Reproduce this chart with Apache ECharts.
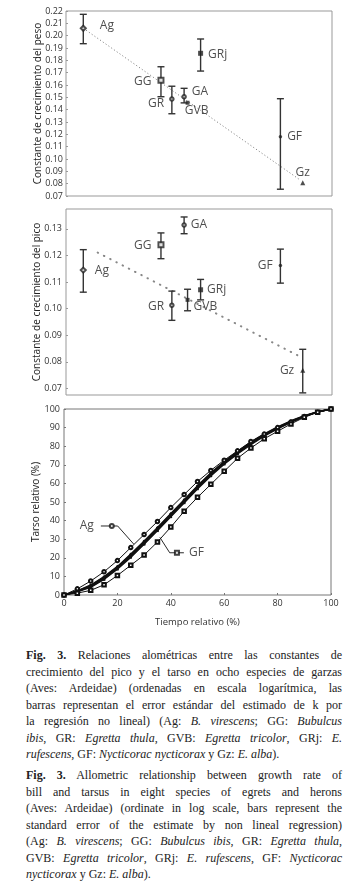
<!DOCTYPE html>
<html>
<head>
<meta charset="utf-8">
<script src="https://cdn.jsdelivr.net/npm/echarts@6/dist/echarts.min.js"></script>
<style>
body { margin: 0; background: #fff; }
#chart { position: absolute; left: 0; top: 0; width: 358px; height: 640px; }
.cap { position: absolute; left: 26px; width: 316px; font-family: "Liberation Serif", serif; font-size: 12px; line-height: 16.5px; color: #222; }
.cap span { display: block; white-space: nowrap; text-align: justify; text-align-last: justify; }
.cap span.last { text-align-last: left; }
</style>
</head>
<body>
<div id="chart"></div>
<div class="cap" style="top:647px">
<span><b>Fig. 3.</b> Relaciones alométricas entre las constantes de</span>
<span>crecimiento del pico y el tarso en ocho especies de garzas</span>
<span>(Aves: Ardeidae) (ordenadas en escala logarítmica, las</span>
<span>barras representan el error estándar del estimado de k por</span>
<span>la regresión no lineal) (Ag: <i>B. virescens</i>; GG: <i>Bubulcus</i></span>
<span><i>ibis</i>, GR: <i>Egretta thula</i>, GVB: <i>Egretta tricolor</i>, GRj: <i>E.</i></span>
<span class="last"><i>rufescens</i>, GF: <i>Nycticorac nycticorax</i> y Gz: <i>E. alba</i>).</span>
</div>
<div class="cap" style="top:767px">
<span><b>Fig. 3.</b> Allometric relationship between growth rate of</span>
<span>bill and tarsus in eight species of egrets and herons</span>
<span>(Aves: Ardeidae) (ordinate in log scale, bars represent the</span>
<span>standard error of the estimate by non lineal regression)</span>
<span>(Ag: <i>B. virescens</i>; GG: <i>Bubulcus ibis</i>, GR: <i>Egretta thula</i>,</span>
<span>GVB: <i>Egretta tricolor</i>, GRj: <i>E. rufescens</i>, GF: <i>Nycticorac</i></span>
<span class="last"><i>nycticorax</i> y Gz: <i>E. alba</i>).</span>
</div>
<script>
// especies y posicion horizontal (constante del tarso, escala relativa)
var species = ['Ag', 'GG', 'GR', 'GA', 'GVB', 'GRj', 'GF', 'Gz'];
var tarsoX = [6.5, 35.7, 39.8, 44.4, 45.7, 50.6, 80.6, 89.0];

// constante de crecimiento del peso (+/- error estandar)
var pesoK    = [0.206, 0.1638, 0.1486, 0.1505, 0.1456, 0.1857, 0.118, 0.0807];
var pesoLow  = [0.1935, 0.1505, 0.1367, 0.1455, 0.1456, 0.1713, 0.0755, 0.0807];
var pesoHigh = [0.2173, 0.1748, 0.159, 0.1573, 0.1456, 0.1973, 0.1489, 0.0807];

// constante de crecimiento del pico
var picoK    = [0.1145, 0.124, 0.1013, 0.1315, 0.1033, 0.1071, 0.1162, 0.0768];
var picoLow  = [0.1062, 0.1188, 0.0956, 0.1282, 0.0992, 0.1033, 0.1096, 0.0683];
var picoHigh = [0.1222, 0.1285, 0.1066, 0.1345, 0.1073, 0.111, 0.1224, 0.0847];

// rectas de regresion
var pesoFitX = [6.5, 88];
var pesoFitY = [0.206, 0.083];
var picoFitX = [11.9, 87.3];
var picoFitY = [0.1211, 0.0823];

// curvas de tarso relativo vs tiempo relativo
var tiempo   = [0, 5, 10, 15, 20, 25, 30, 35, 40, 45, 50, 55, 60, 65, 70, 75, 80, 85, 90, 95, 100];
var tarsoAg  = [0, 3.3, 7.5, 12.5, 18.5, 25.5, 32.5, 39.5, 47, 54, 61, 67, 72.5, 77.5, 82.5, 86.5, 90, 93, 96, 98.3, 100];
var tarsoGG  = [0, 2.2, 5.1, 9.6, 15.1, 21.7, 28.7, 36, 43.5, 51, 58.4, 65.4, 71.5, 77, 82, 86.4, 90.2, 93.5, 96.3, 98.5, 100];
var tarsoGR  = [0, 2, 4.8, 9.2, 14.7, 21.2, 28.2, 35.5, 43, 50.5, 58, 65, 71.2, 76.7, 81.7, 86.2, 90, 93.3, 96.2, 98.4, 100];
var tarsoGA  = [0, 1.9, 4.5, 8.7, 14.2, 20.7, 27.7, 35, 42.5, 50, 57.5, 64.5, 70.7, 76.2, 81.2, 85.8, 89.6, 93, 96, 98.4, 100];
var tarsoGVB = [0, 2.3, 5.4, 9.9, 15.4, 22, 29, 36.3, 43.8, 51.3, 58.7, 65.7, 71.8, 77.3, 82.3, 86.7, 90.4, 93.7, 96.4, 98.6, 100];
var tarsoGRj = [0, 1.7, 4.1, 8.3, 13.8, 20.2, 27.2, 34.5, 42, 49.5, 57, 64, 70.3, 75.8, 80.8, 85.4, 89.3, 92.8, 95.9, 98.3, 100];
var tarsoGz  = [0, 2, 4.7, 9, 14.5, 21, 28, 35.3, 42.8, 50.3, 57.8, 64.8, 71, 76.5, 81.5, 86, 89.8, 93.2, 96.1, 98.4, 100];
var tarsoGF  = [0, 1, 2.5, 5.5, 10.5, 16, 21.5, 28.5, 36.5, 45, 52.5, 59.5, 66.5, 73.5, 79, 84, 88, 92, 95.5, 98.3, 100];

var FONT = '"Open Sans", sans-serif';

var chart = echarts.init(document.getElementById('chart'));

function zip(xs, ys) {
    return xs.map(function (x, i) { return [x, ys[i]]; });
}

function errorBars(low, high, idx) {
    return {
        type: 'custom',
        xAxisIndex: idx, yAxisIndex: idx,
        silent: true,
        z: 2,
        data: tarsoX.map(function (x, i) { return [x, low[i], high[i]]; }),
        renderItem: function (params, api) {
            var lo = api.value(1), hi = api.value(2);
            if (hi - lo < 1e-6) return;
            var a = api.coord([api.value(0), hi]);
            var b = api.coord([api.value(0), lo]);
            var w = 3.5;
            var st = { stroke: '#333', lineWidth: 1.4 };
            return {
                type: 'group',
                children: [
                    { type: 'line', shape: { x1: a[0], y1: a[1], x2: b[0], y2: b[1] }, style: st },
                    { type: 'line', shape: { x1: a[0] - w, y1: a[1], x2: a[0] + w, y2: a[1] }, style: st },
                    { type: 'line', shape: { x1: b[0] - w, y1: b[1], x2: b[0] + w, y2: b[1] }, style: st }
                ]
            };
        }
    };
}

// simbolo y etiqueta de cada especie
var marks = {
    Ag:  ['emptyDiamond', 5],
    GG:  ['emptyRect', 5],
    GR:  ['emptyCircle', 3.5],
    GA:  ['emptyCircle', 3.5],
    GVB: ['rect', 4],
    GRj: ['rect', 5],
    GF:  ['circle', 3.5],
    Gz:  ['triangle', 5]
};
var pesoLabels = {
    Ag:  { position: 'right', distance: 13, offset: [0, -3] },
    GG:  { position: 'left', distance: 6, offset: [0, 1] },
    GR:  { position: 'left', distance: 5, offset: [0, 5] },
    GA:  { position: 'right', distance: 5, offset: [0, -5] },
    GVB: { position: 'bottom', distance: 0, offset: [9, 0] },
    GRj: { position: 'right', distance: 5, offset: [0, 1] },
    GF:  { position: 'right', distance: 5, offset: [0, 0] },
    Gz:  { position: 'top', distance: 2, offset: [0, 0] }
};
var picoLabels = {
    Ag:  { position: 'right', distance: 8, offset: [0, 0] },
    GG:  { position: 'left', distance: 6, offset: [0, 1] },
    GR:  { position: 'left', distance: 5, offset: [0, 1] },
    GA:  { position: 'right', distance: 4, offset: [0, 0] },
    GVB: { position: 'right', distance: 4, offset: [0, 7] },
    GRj: { position: 'right', distance: 4, offset: [0, 0] },
    GF:  { position: 'left', distance: 6, offset: [0, 0] },
    Gz:  { position: 'left', distance: 6, offset: [0, 0] }
};

function points(values, labels, idx) {
    return {
        type: 'scatter',
        xAxisIndex: idx, yAxisIndex: idx,
        z: 3,
        silent: true,
        itemStyle: { color: '#222', borderWidth: 1 },
        label: { show: true, formatter: '{b}', fontSize: 12, fontFamily: FONT, color: '#222' },
        data: species.map(function (s, i) {
            var l = labels[s];
            return {
                name: s,
                value: [tarsoX[i], values[i]],
                symbol: marks[s][0],
                symbolSize: marks[s][1],
                label: { position: l.position, distance: l.distance, offset: l.offset }
            };
        })
    };
}

function curve(ys, symbol, size, width) {
    return {
        type: 'line',
        xAxisIndex: 2, yAxisIndex: 2,
        data: zip(tiempo, ys),
        symbol: symbol,
        symbolSize: size,
        showAllSymbol: true,
        silent: true,
        lineStyle: { color: '#111', width: width },
        itemStyle: { color: '#111', borderWidth: 0.9 }
    };
}

function callout(text, textPos, sample, markerX, markerSymbol, arrowFrom, arrowTo) {
    return [{
        type: 'line',
        xAxisIndex: 2, yAxisIndex: 2,
        data: sample,
        symbol: 'none',
        silent: true,
        z: 5,
        lineStyle: { color: '#111', width: 0.9 },
        markLine: {
            silent: true,
            symbol: ['none', 'arrow'],
            symbolSize: [0, 6],
            label: { show: false },
            lineStyle: { color: '#111', width: 0.9, type: 'solid' },
            data: [[{ coord: arrowFrom }, { coord: arrowTo }]]
        }
    }, {
        type: 'scatter',
        xAxisIndex: 2, yAxisIndex: 2,
        silent: true,
        z: 6,
        data: [
            { value: [markerX, sample[0][1]], symbol: markerSymbol, symbolSize: 4, itemStyle: { color: '#111' } },
            { value: textPos, symbolSize: 1, itemStyle: { color: 'rgba(0,0,0,0)' },
              label: { show: true, position: 'inside', formatter: text, fontSize: 12, fontFamily: FONT, color: '#222' } }
        ]
    }];
}

var yName = { fontSize: 10, fontFamily: FONT, color: '#222' };
var tickLabel = { fontSize: 9, fontFamily: FONT, color: '#333', margin: 4 };

var option = {
    animation: false,
    grid: [
        { left: 66, top: 11, width: 266, height: 185, show: true, borderColor: '#999', borderWidth: 1 },
        { left: 66, top: 209, width: 266, height: 186, show: true, borderColor: '#999', borderWidth: 1 },
        { left: 64, top: 409, width: 267, height: 186, show: true, borderColor: '#777', borderWidth: 1 }
    ],
    xAxis: [
        { gridIndex: 0, type: 'value', min: 0, max: 100, show: false },
        { gridIndex: 1, type: 'value', min: 0, max: 100, show: false },
        {
            gridIndex: 2, type: 'value', min: 0, max: 100, interval: 20,
            name: 'Tiempo relativo (%)', nameLocation: 'middle', nameGap: 22,
            nameTextStyle: { fontSize: 9.5, fontFamily: FONT, color: '#333' },
            axisLine: { show: false }, splitLine: { show: false },
            axisTick: { show: true, inside: true, length: 2, lineStyle: { color: '#777' } },
            axisLabel: { fontSize: 9, fontFamily: FONT, color: '#333', margin: 4 }
        }
    ],
    yAxis: [
        {
            gridIndex: 0, type: 'value', min: 0.07, max: 0.22, interval: 0.01,
            name: 'Constante de crecimiento del peso', nameLocation: 'middle', nameGap: 23,
            nameMoveOverlap: false,
            nameTextStyle: yName,
            axisLine: { show: false }, splitLine: { show: false },
            axisTick: { show: true, inside: true, length: 2, lineStyle: { color: '#999' } },
            axisLabel: {
                fontSize: 9, fontFamily: FONT, color: '#333', margin: 3,
                formatter: function (v) { return v.toFixed(2); }
            }
        },
        {
            gridIndex: 1, type: 'value', min: 0.0675, max: 0.1375, splitNumber: 7,
            name: 'Constante de crecimiento del pico', nameLocation: 'middle', nameGap: 24,
            nameMoveOverlap: false,
            nameTextStyle: yName,
            axisLine: { show: false }, splitLine: { show: false },
            axisTick: { show: true, inside: true, length: 2, lineStyle: { color: '#999' } },
            axisLabel: {
                fontSize: 9, fontFamily: FONT, color: '#333', margin: 4,
                showMinLabel: false, showMaxLabel: false,
                formatter: function (v) {
                    if (Math.abs(v * 100 - Math.round(v * 100)) > 1e-6) return '';
                    return v.toFixed(2);
                }
            }
        },
        {
            gridIndex: 2, type: 'value', min: 0, max: 100, interval: 10,
            name: 'Tarso relativo (%)', nameLocation: 'middle', nameGap: 23,
            nameMoveOverlap: false,
            nameTextStyle: yName,
            axisLine: { show: false }, splitLine: { show: false },
            axisTick: { show: true, inside: true, length: 2, lineStyle: { color: '#777' } },
            axisLabel: tickLabel
        }
    ],
    series: [
        {
            type: 'line', xAxisIndex: 0, yAxisIndex: 0, symbol: 'none', silent: true, z: 1,
            data: zip(pesoFitX, pesoFitY),
            lineStyle: { color: '#888', width: 1, type: [1.2, 2.2] }
        },
        errorBars(pesoLow, pesoHigh, 0),
        points(pesoK, pesoLabels, 0),
        {
            type: 'line', xAxisIndex: 1, yAxisIndex: 1, symbol: 'none', silent: true, z: 1,
            data: zip(picoFitX, picoFitY),
            lineStyle: { color: '#888', width: 2, type: [0.5, 6.5], cap: 'round' }
        },
        errorBars(picoLow, picoHigh, 1),
        points(picoK, picoLabels, 1),
        curve(tarsoGG, 'circle', 2.5, 1.3),
        curve(tarsoGR, 'rect', 2.5, 1.3),
        curve(tarsoGA, 'triangle', 3, 1.3),
        curve(tarsoGVB, 'diamond', 3, 1.3),
        curve(tarsoGRj, 'rect', 2.5, 1.3),
        curve(tarsoGz, 'circle', 2.5, 1.3),
        curve(tarsoAg, 'emptyCircle', 3.5, 1),
        curve(tarsoGF, 'emptyRect', 3.5, 1)
    ].concat(
        callout('Ag', [8.5, 37.1], [[13.8, 37.1], [20.1, 37.1]], 17.9, 'emptyCircle', [20.1, 37.1], [26.1, 27.4]),
        callout('GF', [49.6, 22.7], [[39.6, 22.7], [44.9, 22.7]], 42.3, 'emptyRect', [39.6, 22.7], [35.9, 31.0])
    )
};

chart.setOption(option);
</script>
</body>
</html>
